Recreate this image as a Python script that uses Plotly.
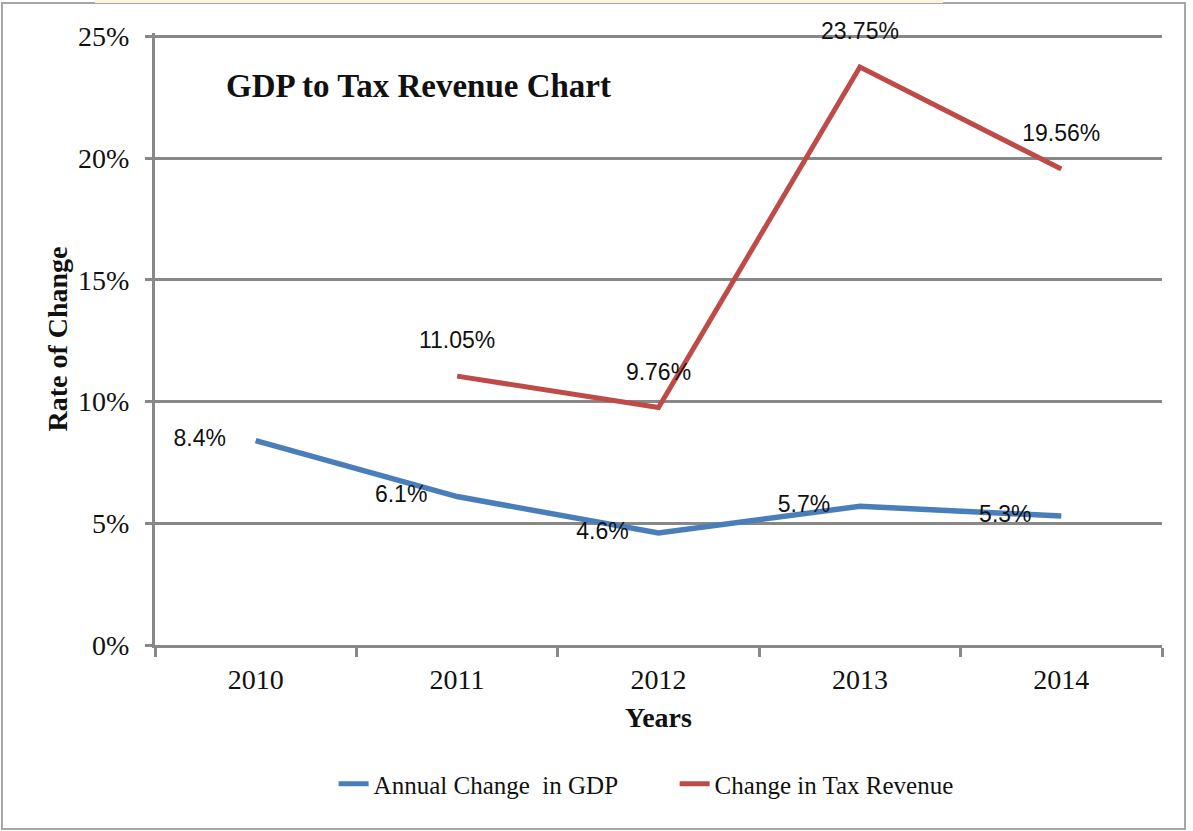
import plotly.graph_objects as go

years = ["2010", "2011", "2012", "2013", "2014"]
gdp_change = [8.4, 6.1, 4.6, 5.7, 5.3]
tax_change = [None, 11.05, 9.76, 23.75, 19.56]
gdp_labels = ["8.4%", "6.1%", "4.6%", "5.7%", "5.3%"]
tax_labels = ["", "11.05%", "9.76%", "23.75%", "19.56%"]
y_ticks = [0, 5, 10, 15, 20, 25]
y_tick_text = ["0%", "5%", "10%", "15%", "20%", "25%"]

W, H = 1193, 831
L, R, T, B = 155, 31, 33, 186
pw, ph = W - L - R, H - T - B

def px(x):
    return (x - L) / pw

def py(y):
    return (H - B - y) / ph

serif = "Liberation Serif, Times New Roman, serif"
sans = "Liberation Sans, Arial, sans-serif"

fig = go.Figure()
fig.add_trace(go.Scatter(
    x=years, y=gdp_change, name="Annual Change  in GDP",
    mode="lines+markers+text", text=gdp_labels, textposition="middle left",
    line=dict(color="#4A7EBB", width=5.5),
    marker=dict(size=46, color="rgba(0,0,0,0)"),
    textfont=dict(family=sans, size=23, color="#111"),
    cliponaxis=False,
))
fig.add_trace(go.Scatter(
    x=years, y=tax_change, name="Change in Tax Revenue",
    mode="lines+markers+text", text=tax_labels, textposition="top center",
    line=dict(color="#BE4B48", width=5),
    marker=dict(size=34, color="rgba(0,0,0,0)"),
    textfont=dict(family=sans, size=23, color="#111"),
    cliponaxis=False, connectgaps=False,
))

fig.update_layout(
    width=W, height=H,
    margin=dict(l=L, r=R, t=T, b=B),
    paper_bgcolor="white", plot_bgcolor="white",
    showlegend=True,
    legend=dict(orientation="h", x=0.516, xanchor="center", y=py(784), yanchor="middle",
                font=dict(family=serif, size=25, color="#111"),
                itemsizing="constant", entrywidth=296, entrywidthmode="pixels"),
    xaxis=dict(
        type="category", range=[-0.5, 4.5], tickson="boundaries", ticks="outside",
        ticklen=9, tickwidth=3,
        tickcolor="#888", showline=True, linecolor="#888", linewidth=3, showgrid=False,
        tickfont=dict(family=serif, size=28, color="#111"),
        ticklabelstandoff=7,
        title=dict(text="<b>Years</b>", font=dict(family=serif, size=28, color="#111"), standoff=14),
    ),
    yaxis=dict(
        range=[0, 25.15], tickvals=y_ticks, ticktext=y_tick_text, ticks="outside",
        ticklen=7, tickwidth=3,
        tickcolor="#888", showline=True, linecolor="#888", linewidth=3,
        showgrid=True, gridcolor="#888", gridwidth=2.5, zeroline=False,
        tickfont=dict(family=serif, size=28, color="#111"),
        ticklabelstandoff=10,
        title=dict(text="<b>Rate of Change</b>", font=dict(family=serif, size=28, color="#111"), standoff=3),
    ),
    shapes=[
        dict(type="rect", xref="paper", yref="paper", x0=px(2), x1=px(1185), y0=py(829), y1=py(3),
             line=dict(color="#A6A6A6", width=2), fillcolor="rgba(0,0,0,0)", layer="below"),
        dict(type="rect", xref="paper", yref="paper", x0=px(95), x1=px(943), y0=py(3), y1=py(0),
             line=dict(width=0), fillcolor="#FBF3E0", layer="below"),
    ],
    annotations=[
        dict(text="<b>GDP to Tax Revenue Chart</b>", xref="paper", yref="paper",
             x=px(224), y=py(86), xanchor="left", yanchor="middle", showarrow=False,
             font=dict(family=serif, size=33, color="#111")),
    ],
)

fig.write_html("out.html")
